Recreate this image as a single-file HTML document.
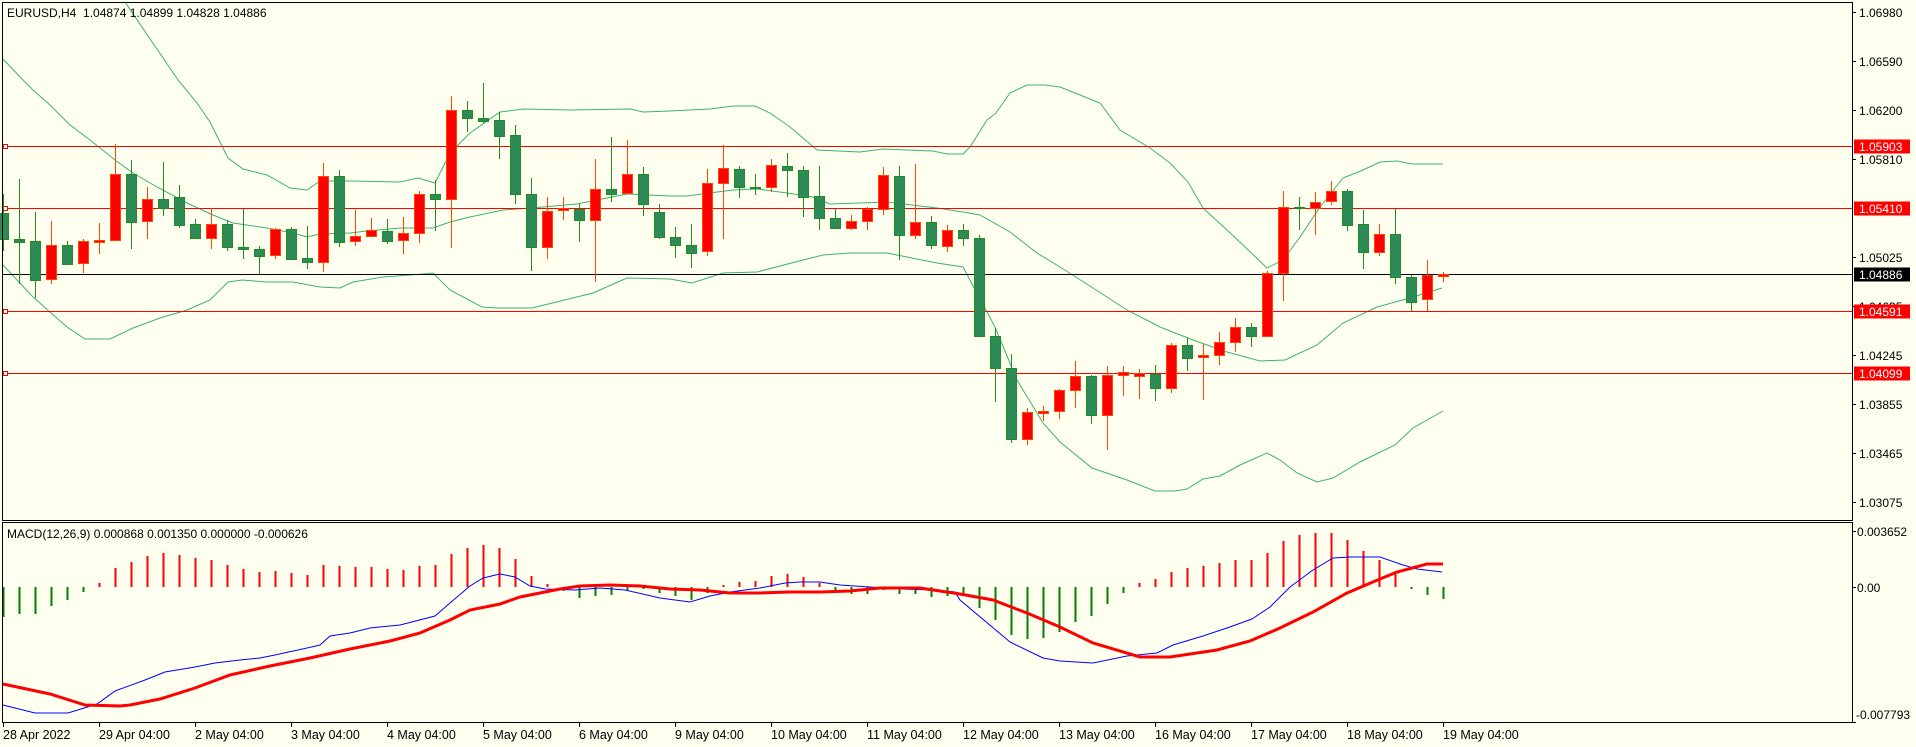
<!DOCTYPE html>
<html><head><meta charset="utf-8">
<style>
html,body{margin:0;padding:0;background:#fffff0;}
body{width:1916px;height:747px;overflow:hidden;}
svg{display:block;font-family:"Liberation Sans",sans-serif;font-size:12px;}
</style></head>
<body>
<svg id="s" width="1916" height="747" xmlns="http://www.w3.org/2000/svg">
<rect x="0" y="0" width="1916" height="747" fill="#fffff0"/>
<g id="bands" fill="none" stroke="#3cb371" stroke-width="1"></g>
<g id="hlines"></g>
<g id="candles"></g>
<g id="macd"></g>
<rect x="2.5" y="2.5" width="1850" height="518" fill="none" stroke="#000" stroke-width="1"/>
<rect x="2.5" y="522.5" width="1850" height="200" fill="none" stroke="#000" stroke-width="1"/>
<text x="7" y="17" fill="#000">EURUSD,H4&#160; 1.04874 1.04899 1.04828 1.04886</text>
<text x="7" y="538" fill="#000">MACD(12,26,9) 0.000868 0.001350 0.000000 -0.000626</text>
<g id="yax" fill="#000"></g>
<g fill="#000">
<text x="1857" y="536">0.003652</text>
<text x="1857" y="592">0.00</text>
<text x="1856" y="719">-0.007793</text>
</g>
<g id="xax" fill="#000"></g>
</svg>
<script>
var NS="http://www.w3.org/2000/svg";
function el(p,t,a,txt){var e=document.createElementNS(NS,t);for(var k in a)e.setAttribute(k,a[k]);if(txt!==undefined)e.textContent=txt;document.getElementById(p).appendChild(e);return e;}
function X(i){return 3+16*i;}
// bands
var up=[[125,2],[178,80],[197,103],[210,122],[228,158],[243,169],[267,175],[290,188],[307,190],[320,181],[350,181],[400,182],[418,178],[435,183],[450,153],[470,133],[500,112],[523,109],[570,110],[630,109],[643,112],[670,111],[710,109],[733,106],[755,106],[770,113],[790,127],[817,150],[860,152],[883,149],[907,150],[933,151],[947,154],[963,154],[970,147],[987,120],[996,113],[1010,93],[1027,85],[1045,85],[1060,87],[1080,95],[1100,103],[1120,130],[1140,142],[1150,148],[1170,163],[1188,182],[1203,208],[1227,230],[1243,245],[1267,268],[1283,260],[1300,237],[1320,207],[1343,178],[1363,170],[1380,162],[1397,161],[1412,164],[1443,164]];
var mid=[[3,59],[23,80],[33,90],[50,105],[70,125],[90,140],[115,160],[133,173],[157,187],[187,203],[213,215],[233,223],[267,228],[293,233],[307,237],[320,234],[350,233],[367,231],[400,228],[433,228],[450,222],[470,217],[503,210],[543,207],[577,204],[627,194],[670,196],[687,196],[717,192],[733,190],[757,189],[787,193],[813,197],[830,204],[887,202],[937,208],[963,212],[980,215],[1010,232],[1037,253],[1060,267],[1093,288],[1127,310],[1160,327],[1193,340],[1227,352],[1260,361],[1285,360],[1317,345],[1343,323],[1377,307],[1410,298],[1442,288]];
var lo=[[3,265],[33,297],[67,327],[85,339],[110,339],[133,328],[160,318],[187,310],[210,300],[228,282],[242,280],[267,282],[293,282],[320,287],[340,288],[353,282],[383,277],[423,274],[433,273],[450,290],[482,307],[497,308],[532,308],[593,293],[627,278],[670,279],[692,283],[723,273],[757,272],[803,260],[823,255],[850,253],[887,253],[937,263],[963,267],[995,327],[1017,380],[1043,423],[1060,442],[1092,468],[1127,480],[1155,491],[1175,491],[1187,489],[1203,479],[1220,476],[1240,465],[1267,453],[1280,460],[1297,473],[1317,482],[1333,478],[1360,462],[1395,445],[1413,428],[1443,411]];
[up,mid,lo].forEach(function(a){el("bands","polyline",{points:a.map(function(p){return p.join(",");}).join(" ")});});
// horizontal lines
[[146.5,"1.05903"],[208.5,"1.05410"],[311.5,"1.04591"],[373.5,"1.04099"]].forEach(function(l){
 el("hlines","line",{x1:3,x2:1852,y1:l[0],y2:l[0],stroke:"#ff0000","stroke-width":1});
 el("hlines","rect",{x:3.5,y:l[0]-2,width:4,height:4,fill:"#fffff0",stroke:"#ff0000","stroke-width":1});
});
el("hlines","line",{x1:3,x2:1852,y1:274.5,y2:274.5,stroke:"#000","stroke-width":1});
// candles [H,top,bot,L,c] c=1 red(up) 0 green
var C=[[194,213,239,251,0],[179,239,242,284,0],[212,241,280,298,0],[221,245,279,284,1],[241,245,264,265,0],[239,241,263,273,1],[223,240,242,254,1],[144,174,240,240,1],[160,174,222,249,0],[187,199,221,239,1],[162,199,208,216,0],[185,197,225,228,0],[219,224,238,239,0],[208,224,238,249,1],[220,224,247,251,0],[209,247,249,259,0],[246,249,256,274,0],[228,229,255,259,1],[227,229,259,259,0],[226,258,262,269,0],[163,176,262,272,1],[170,176,242,247,0],[210,236,241,246,1],[218,230,236,236,1],[219,231,241,244,0],[217,233,240,254,1],[191,194,233,243,1],[180,194,199,231,0],[96,110,199,248,1],[101,110,118,132,0],[83,118,121,123,0],[112,120,136,159,0],[125,135,194,204,0],[178,194,247,271,0],[197,211,247,259,1],[197,208,210,220,1],[204,209,220,242,0],[159,189,220,282,1],[137,189,194,202,0],[140,174,193,193,1],[167,174,204,216,0],[204,212,237,239,0],[227,237,245,258,0],[224,245,253,268,0],[169,183,251,256,1],[145,168,183,239,1],[166,169,187,198,0],[174,187,188,195,0],[159,165,187,192,1],[153,166,170,197,0],[166,170,197,217,0],[166,196,218,230,0],[209,218,228,228,0],[215,221,228,230,1],[207,209,221,230,1],[167,175,209,215,1],[166,176,235,260,0],[164,222,235,239,1],[216,222,245,249,0],[225,230,246,252,1],[224,230,238,246,0],[235,238,336,337,0],[328,336,368,402,0],[354,368,439,443,0],[408,412,439,445,1],[406,411,413,421,1],[389,390,411,419,1],[361,376,390,408,1],[375,376,415,424,0],[366,375,415,450,1],[366,372,375,396,1],[369,373,376,399,1],[365,374,388,401,0],[343,345,388,393,1],[338,345,358,371,0],[344,355,357,400,1],[332,342,355,365,1],[318,327,342,352,1],[323,327,336,347,0],[271,273,336,336,1],[191,207,273,301,1],[197,207,208,230,0],[192,202,208,235,1],[181,191,201,205,1],[189,191,225,231,0],[210,224,252,269,0],[224,234,252,256,1],[209,234,277,284,0],[275,277,302,311,0],[260,275,299,311,1],[272,274,276,282,1]];
C.forEach(function(c,i){
 var x=X(i),fill=c[4]?"#ff0000":"#2e8b57",st=c[4]?"#ff4500":"#228b22";
 el("candles","line",{x1:x+0.5,x2:x+0.5,y1:c[0],y2:c[3],stroke:st,"stroke-width":1});
 var h=Math.max(c[2]-c[1],1);
 el("candles","rect",{x:x-4.5,y:c[1]+0.5,width:10,height:h,fill:fill,stroke:st,"stroke-width":1});
});
// histogram
var Hs=[617,614,614,606,600,592,583,568,562,556,553,555,558,560,565,569,572,571,573,575,565,566,567,567,569,570,566,565,554,548,545,548,559,576,584,591,598,596,595,590,589,593,596,600,593,585,582,581,576,574,577,583,590,594,594,590,594,594,597,596,596,608,620,635,639,638,632,622,616,604,593,583,579,572,568,566,563,560,560,553,541,535,533,533,540,551,560,574,589,595,599];
var Z=587;
Hs.forEach(function(y,i){var x=X(i);var col=(y<Z)?"#ff0000":"#008000";
 el("macd","rect",{x:x-0.5,y:Math.min(y,Z),width:2,height:Math.max(Math.abs(y-Z),1),fill:col});});
var blue=[[3,705],[35,713],[68,713],[97,704],[115,691],[145,680],[165,672],[195,667],[215,663],[240,660],[260,658],[275,655],[307,648],[320,645],[330,636],[350,633],[370,628],[400,625],[435,616],[450,603],[470,586],[483,578],[500,574],[515,577],[530,586],[545,589],[575,590],[600,588],[625,590],[660,598],[690,602],[710,596],[730,592],[760,588],[785,583],[800,582],[820,582],[840,585],[870,587],[900,589],[935,590],[955,592],[960,600],[1010,642],[1043,658],[1060,661],[1093,663],[1127,656],[1157,653],[1173,645],[1203,636],[1227,628],[1252,619],[1270,607],[1290,587],[1313,570],[1333,558],[1350,557],[1380,557],[1403,565],[1417,569],[1442,572]];
var red=[[3,684],[50,694],[85,705],[120,706],[130,705],[160,699],[195,688],[230,675],[270,666],[310,658],[350,649],[390,641],[420,633],[450,620],[470,610],[500,604],[520,597],[560,589],[580,586],[610,585],[640,586],[670,589],[700,590],[730,593],[760,593],[790,592],[820,592],[850,591],[880,588],[920,588],[960,594],[993,600],[1027,613],[1060,627],[1093,643],[1140,657],[1170,657],[1217,650],[1250,641],[1280,628],[1313,612],[1347,593],[1380,579],[1397,572],[1427,564],[1443,564]];
el("macd","polyline",{points:blue.map(function(p){return p.join(",");}).join(" "),fill:"none",stroke:"#0000ff","stroke-width":1});
el("macd","polyline",{points:red.map(function(p){return p.join(",");}).join(" "),fill:"none",stroke:"#ff0000","stroke-width":3});
// y axis
var yl=[[11.7,"1.06980"],[60.7,"1.06590"],[109.7,"1.06200"],[158.7,"1.05810"],[256.7,"1.05025"],[305.7,"1.04635"],[354.7,"1.04245"],[403.7,"1.03855"],[452.7,"1.03465"],[501.7,"1.03075"]];
yl.forEach(function(l){var y=Math.round(l[0])+0.5;el("yax","line",{x1:1852,x2:1856,y1:y,y2:y,stroke:"#000"});el("yax","text",{x:1859,y:y+4.5},l[1]);});
[[146.5,"1.05903","#ff0000"],[208.5,"1.05410","#ff0000"],[274.5,"1.04886","#000000"],[311.5,"1.04591","#ff0000"],[373.5,"1.04099","#ff0000"]].forEach(function(l){
 el("yax","rect",{x:1854,y:l[0]-7,width:56,height:14,fill:l[2]});
 el("yax","text",{x:1859,y:l[0]+4.5,fill:"#fff"},l[1]);});
[[531],[587],[722]].forEach(function(l){el("yax","line",{x1:1852,x2:1856,y1:l[0]+0.5,y2:l[0]+0.5,stroke:"#000"});});
// x axis
var xl=["28 Apr 2022","29 Apr 04:00","2 May 04:00","3 May 04:00","4 May 04:00","5 May 04:00","6 May 04:00","9 May 04:00","10 May 04:00","11 May 04:00","12 May 04:00","13 May 04:00","16 May 04:00","17 May 04:00","18 May 04:00","19 May 04:00"];
xl.forEach(function(t,k){var x=X(6*k);el("xax","line",{x1:x+0.5,x2:x+0.5,y1:722,y2:727,stroke:"#000"});el("xax","text",{x:x,y:739,"font-size":"12.5px"},t);});
</script>
</body></html>
